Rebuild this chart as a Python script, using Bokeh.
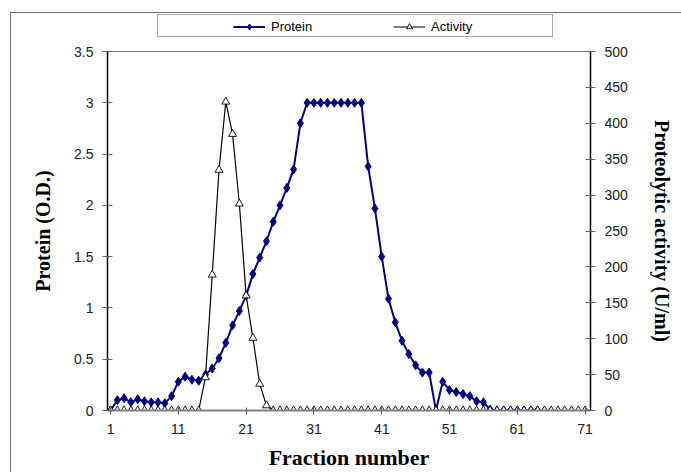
from bokeh.plotting import figure
from bokeh.layouts import column
from bokeh.models import (Range1d, LinearAxis, FixedTicker, NumeralTickFormatter,
                          Legend, LegendItem, ColumnDataSource)
from bokeh.embed import file_html
from bokeh.resources import INLINE

# ---------------- data ----------------
fractions = list(range(1, 72))
protein = [0.00, 0.10, 0.12, 0.08, 0.11, 0.09, 0.08, 0.08, 0.07, 0.14,
           0.28, 0.33, 0.30, 0.29, 0.35, 0.41, 0.51, 0.66, 0.83, 0.97,
           1.12, 1.33, 1.49, 1.65, 1.84, 2.00, 2.17, 2.35, 2.80, 3.00,
           3.00, 3.00, 3.00, 3.00, 3.00, 3.00, 3.00, 3.00, 2.38, 1.97,
           1.50, 1.09, 0.86, 0.68, 0.55, 0.44, 0.37, 0.37, 0.00, 0.28,
           0.20, 0.18, 0.16, 0.14, 0.09, 0.08, 0.01, 0.00, 0.00, 0.00,
           0.00, 0.00, 0.00, 0.00]
activity = [0, 0, 0, 0, 0, 0, 0, 0, 0, 0,
            0, 0, 0, 0, 46, 189, 335, 430, 385, 288,
            160, 101, 37, 7, 0, 0, 0, 0, 0, 0,
            0, 0, 0, 0, 0, 0, 0, 0, 0, 0,
            0, 0, 0, 0, 0, 0, 0, 0, 0, 0,
            0, 0, 0, 0, 0, 0, 0, 0, 0, 0,
            0, 0, 0, 0, 0, 0, 0, 0, 0, 0,
            0]
x_ticks = [1, 11, 21, 31, 41, 51, 61, 71]
left_ticks = [0, 0.5, 1, 1.5, 2, 2.5, 3, 3.5]
right_ticks = [0, 50, 100, 150, 200, 250, 300, 350, 400, 450, 500]
series_names = ["Protein", "Activity"]

src_p = ColumnDataSource(dict(x=fractions[:len(protein)], y=protein))
src_a = ColumnDataSource(dict(x=fractions, y=activity))

SANS = "Liberation Sans"
SERIF = "Liberation Serif"
PCOL = "#000080"

# ---------------- main chart ----------------
fig = figure(width=681, height=429, x_range=Range1d(0.55, 71.8), y_range=Range1d(0, 3.5),
             output_backend="svg", toolbar_location=None,
             min_border_left=107, min_border_right=91, min_border_top=8, min_border_bottom=62)
fig.extra_y_ranges = {"act": Range1d(0, 500)}
fig.xgrid.visible = False
fig.ygrid.visible = False
fig.outline_line_color = "#808080"
fig.outline_line_width = 1
fig.background_fill_color = "white"
fig.border_fill_alpha = 0

fig.line("x", "y", source=src_p, line_color=PCOL, line_width=2)
fig.scatter("x", "y", source=src_p, marker="diamond", size=9, fill_color=PCOL, line_color=PCOL)
fig.line("x", "y", source=src_a, line_color="black", line_width=1.2, y_range_name="act")
fig.scatter("x", "y", source=src_a, marker="triangle", size=8, fill_color="white",
            line_color="black", line_width=0.9, y_range_name="act")

xa = fig.xaxis[0]
xa.ticker = FixedTicker(ticks=x_ticks)
xa.minor_tick_line_color = None
xa.axis_line_color = "#808080"
xa.axis_line_width = 2
xa.major_tick_line_color = "#606060"
xa.major_tick_in = 3
xa.major_tick_out = 4
xa.major_label_standoff = 9
xa.major_label_text_font = SANS
xa.major_label_text_font_size = "14px"
xa.major_label_text_color = "#222222"
xa.axis_label = "Fraction number"
xa.axis_label_text_font = SERIF
xa.axis_label_text_font_style = "bold"
xa.axis_label_text_font_size = "22px"
xa.axis_label_text_color = "black"
xa.axis_label_standoff = 8

ya = fig.yaxis[0]
ya.ticker = FixedTicker(ticks=left_ticks)
ya.formatter = NumeralTickFormatter(format="0.[0]")
ya.minor_tick_line_color = None
ya.axis_line_color = "black"
ya.axis_line_width = 1.5
ya.major_tick_line_color = "#606060"
ya.major_tick_in = 5
ya.major_tick_out = 5
ya.major_label_standoff = 9
ya.major_label_text_font = SANS
ya.major_label_text_font_size = "14px"
ya.major_label_text_color = "#222222"
ya.axis_label = "Protein (O.D.)"
ya.axis_label_text_font = SERIF
ya.axis_label_text_font_style = "bold"
ya.axis_label_text_font_size = "20px"
ya.axis_label_text_color = "black"
ya.axis_label_standoff = 17

ra = LinearAxis(y_range_name="act", ticker=FixedTicker(ticks=right_ticks))
ra.minor_tick_line_color = None
ra.axis_line_color = "black"
ra.axis_line_width = 1.5
ra.major_tick_line_color = "#606060"
ra.major_tick_in = 5
ra.major_tick_out = 5
ra.major_label_standoff = 9
ra.major_label_text_font = SANS
ra.major_label_text_font_size = "14px"
ra.major_label_text_color = "#222222"
ra.axis_label = "Proteolytic activity (U/ml)"
ra.axis_label_text_font = SERIF
ra.axis_label_text_font_style = "bold"
ra.axis_label_text_font_size = "20px"
ra.axis_label_text_color = "black"
ra.axis_label_standoff = 20
fig.add_layout(ra, "right")

# ---------------- legend strip (above the chart) ----------------
# its frame is aligned with the chart's frame by the column layout;
# the ranges are chosen so that no data falls inside it: only the legend shows.
lf = figure(width=681, height=43, x_range=Range1d(-20, -10), y_range=Range1d(-20, -10),
            output_backend="svg", toolbar_location=None,
            min_border_left=0, min_border_right=0, min_border_top=0, min_border_bottom=0)
lf.axis.visible = False
lf.xgrid.visible = False
lf.ygrid.visible = False
lf.outline_line_color = None
lf.background_fill_alpha = 0
lf.border_fill_alpha = 0
kpl = lf.line("x", "y", source=src_p, line_color=PCOL, line_width=2)
kps = lf.scatter("x", "y", source=src_p, marker="diamond", size=9, fill_color=PCOL, line_color=PCOL)
kal = lf.line("x", "y", source=src_a, line_color="black", line_width=1.2)
kas = lf.scatter("x", "y", source=src_a, marker="triangle", size=8, fill_color="white",
                 line_color="black", line_width=0.9)
kbox = lf.line("x", "y", source=src_a, line_alpha=0)

box = Legend(items=[LegendItem(label=" ", renderers=[kbox])], location=(50, 6),
             orientation="horizontal", padding=0, margin=0, spacing=0,
             glyph_width=1, glyph_height=21, label_width=393, label_height=21,
             label_standoff=0, label_text_font_size="10px",
             border_line_color="#505050", border_line_width=1,
             background_fill_color="white", background_fill_alpha=1)
lf.add_layout(box, "center")

leg = Legend(items=[LegendItem(label=series_names[0], renderers=[kpl, kps]),
                    LegendItem(label=series_names[1], renderers=[kal, kas])],
             location=(126, 9), orientation="horizontal", padding=0, margin=0,
             spacing=62, glyph_width=32, glyph_height=15, label_width=60, label_height=15,
             label_standoff=6, label_text_font=SANS, label_text_font_size="13px",
             label_text_color="black", border_line_alpha=0, background_fill_alpha=0)
lf.add_layout(leg, "center")

p = column(lf, fig, spacing=0)
p.styles = {"background": ("linear-gradient(#707070,#707070) 10px 12px / 100% 1px no-repeat, "
                           "linear-gradient(#707070,#707070) 10px 12px / 1px 100% no-repeat, white")}

open("out.html", "w").write(file_html(p, INLINE))
